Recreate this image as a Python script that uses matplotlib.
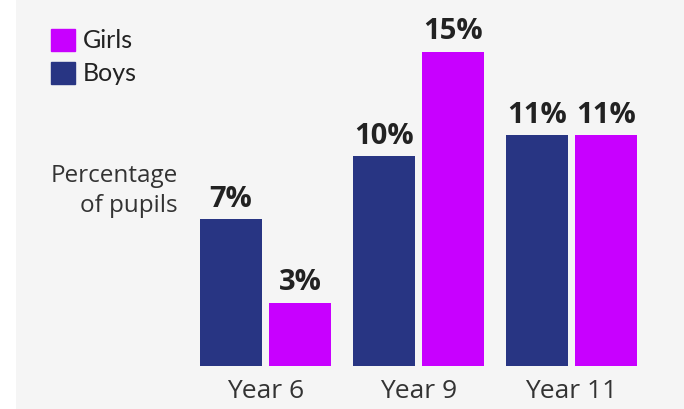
import matplotlib.pyplot as plt
import matplotlib.patches as mpatches
import numpy as np

# Share of pupils by school year
years = ["Year 6", "Year 9", "Year 11"]
boys = [7, 10, 11]
girls = [3, 15, 11]

BOYS_COLOR = "#283583"
GIRLS_COLOR = "#c800ff"
BG_COLOR = "#f5f5f5"

W, H, DPI = 684, 409, 100


def main():
    fig = plt.figure(figsize=(W / DPI, H / DPI), dpi=DPI, facecolor="white")

    # grey panel behind everything except a thin white strip on the left
    fig.patches.append(mpatches.Rectangle((16 / W, 0), 1 - 16 / W, 1, transform=fig.transFigure,
                                          facecolor=BG_COLOR, edgecolor="none", zorder=-1))

    # axes laid out in pixels: baseline at y=365.7, 153 px between groups
    left_px, right_px = 180, 670
    base_px, top_px = 365.7, 30.8
    ax = fig.add_axes([left_px / W, (H - base_px) / H, (right_px - left_px) / W, (base_px - top_px) / H])
    ax.set_facecolor("none")

    x = np.arange(len(years))
    width = 0.405
    offset = 0.2255
    b1 = ax.bar(x - offset, boys, width, color=BOYS_COLOR, label="Boys")
    b2 = ax.bar(x + offset, girls, width, color=GIRLS_COLOR, label="Girls")

    for bars, vals in ((b1, boys), (b2, girls)):
        for rect, v in zip(bars, vals):
            ax.annotate(f"{v}%", (rect.get_x() + rect.get_width() / 2, v), xytext=(0, 9),
                        textcoords="offset points", ha="center", va="baseline",
                        fontsize=21, fontweight="bold", family="Open Sans", color="#222222")

    ax.set_xlim((left_px - 265.5) / 153, (right_px - 265.5) / 153)
    ax.set_ylim(0, 16)
    ax.set_xticks(x)
    ax.set_xticklabels(years, fontsize=19, family="Open Sans", color="#333333")
    ax.tick_params(axis="x", length=0, pad=9.5)
    ax.set_yticks([])
    for s in ax.spines.values():
        s.set_visible(False)

    # baseline alignment on a two-line text pins the last line
    fig.text(178 / W, 1 - 211.5 / H, "Percentage\nof pupils", ha="right", va="baseline",
             multialignment="right", fontsize=17.5, family="Open Sans", color="#333333",
             linespacing=1.33)

    handles = [mpatches.Patch(color=GIRLS_COLOR), mpatches.Patch(color=BOYS_COLOR)]
    fig.legend(handles, ["Girls", "Boys"], loc="upper left", bbox_to_anchor=(51 / W, 1 - 29 / H),
               frameon=False, prop={"family": "Lato", "size": 18}, handlelength=0.96,
               handleheight=0.96, handletextpad=0.32, labelspacing=0.38, borderpad=0,
               borderaxespad=0, labelcolor="#222222")

    fig.savefig("out.png", dpi=DPI, facecolor="white")


if __name__ == "__main__":
    main()
